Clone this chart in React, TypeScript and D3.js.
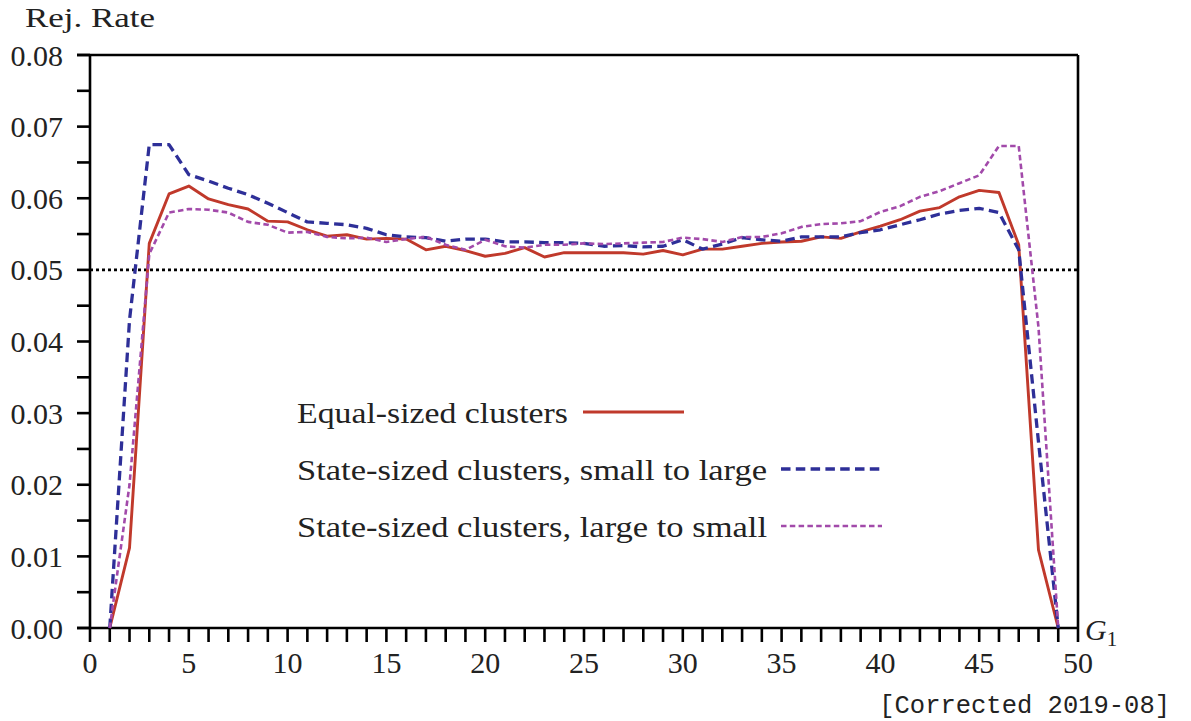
import React from "react";
import * as d3 from "d3";

// Number of clusters assigned to group 1 (G1)
const g1: number[] = d3.range(1, 50);

const equalSized: number[] = [
  0, 0.0112, 0.0537, 0.0606, 0.0617, 0.0599, 0.0591, 0.0585, 0.0568, 0.0567,
  0.0556, 0.0547, 0.0549, 0.0543, 0.0544, 0.0543, 0.0528, 0.0533, 0.0527, 0.0519,
  0.0523, 0.0531, 0.0518, 0.0524, 0.0524, 0.0524, 0.0524, 0.0522, 0.0527, 0.0521,
  0.0529, 0.0529, 0.0533, 0.0537, 0.0539, 0.054, 0.0546, 0.0544, 0.0553, 0.0561,
  0.057, 0.0582, 0.0587, 0.0602, 0.0611, 0.0608, 0.0535, 0.0109, 0,
];

const smallToLarge: number[] = [
  0, 0.043, 0.0675, 0.0675, 0.0633, 0.0624, 0.0614, 0.0605, 0.0593, 0.058,
  0.0567, 0.0565, 0.0563, 0.0558, 0.0549, 0.0546, 0.0545, 0.054, 0.0543, 0.0543,
  0.0539, 0.0539, 0.0538, 0.0538, 0.0537, 0.0533, 0.0534, 0.0532, 0.0533, 0.0542,
  0.0529, 0.0536, 0.0545, 0.0542, 0.054, 0.0546, 0.0546, 0.0546, 0.0552, 0.0556,
  0.0563, 0.057, 0.0578, 0.0583, 0.0586, 0.058, 0.0528, 0.026, 0,
];

const largeToSmall: number[] = [
  0, 0.02, 0.0522, 0.058, 0.0585, 0.0584, 0.058, 0.0567, 0.0563, 0.0552,
  0.0553, 0.0546, 0.0544, 0.0545, 0.0539, 0.0543, 0.0546, 0.0535, 0.0528, 0.0542,
  0.0533, 0.0531, 0.0535, 0.0535, 0.0537, 0.0536, 0.0537, 0.0538, 0.0539, 0.0545,
  0.0543, 0.0539, 0.0546, 0.0546, 0.0551, 0.056, 0.0564, 0.0565, 0.0568, 0.0581,
  0.0589, 0.0602, 0.061, 0.0621, 0.0632, 0.0673, 0.0673, 0.042, 0,
];

const xMajorTicks: number[] = [0, 5, 10, 15, 20, 25, 30, 35, 40, 45, 50];
const yMajorTicks: number[] = [0, 0.01, 0.02, 0.03, 0.04, 0.05, 0.06, 0.07, 0.08];
const nominalLevel = 0.05;

const seriesNames: string[] = [
  "Equal-sized clusters",
  "State-sized clusters, small to large",
  "State-sized clusters, large to small",
];

const W = 1191;
const H = 721;
const left = 90;
const right = 1078;
const top = 55;
const bottom = 628;

const serif = "'Liberation Serif', 'DejaVu Serif', serif";
const mono = "'Liberation Mono', 'DejaVu Sans Mono', monospace";
const ink = "#222";

export default function App() {
  const x = d3.scaleLinear().domain([0, 50]).range([left, right]);
  const y = d3.scaleLinear().domain([0, 0.08]).range([bottom, top]);

  const line = d3
    .line<number>()
    .x((_, i) => x(g1[i]))
    .y((d) => y(d));

  const series = [
    { name: seriesNames[0], values: equalSized, color: "#c0392b", dash: undefined, width: 2.9, textW: 271, lx1: 583, lx2: 684, ly: 412 },
    { name: seriesNames[1], values: smallToLarge, color: "#2e2f98", dash: "9.5,5.3", width: 3.3, textW: 470, lx1: 781, lx2: 882, ly: 469 },
    { name: seriesNames[2], values: largeToSmall, color: "#a24aaa", dash: "5.5,3.3", width: 2.6, textW: 470, lx1: 781, lx2: 882, ly: 526 },
  ];

  const xMinor = d3.range(0, 51);
  const yMinor = d3.range(0, 17).map((i) => i * 0.005);

  return (
    <svg
      width={W}
      height={H}
      style={{ position: "absolute", left: 0, top: 0, background: "#fff" }}
    >
      {/* y-axis label */}
      <text
        x={25}
        y={27}
        textLength={130}
        lengthAdjust="spacingAndGlyphs"
        fontFamily={serif}
        fontSize={28}
        fill={ink}
      >
        Rej. Rate
      </text>

      {/* ticks (outside) */}
      {yMinor.map((v, i) => (
        <line key={"yt" + i} x1={left - 13} x2={left} y1={y(v)} y2={y(v)} stroke="#000" strokeWidth={2.6} />
      ))}
      {xMinor.map((v, i) => (
        <line key={"xt" + i} x1={x(v)} x2={x(v)} y1={bottom} y2={bottom + 14} stroke="#000" strokeWidth={2.6} />
      ))}

      {/* frame */}
      <line x1={left} x2={left} y1={top} y2={bottom} stroke="#000" strokeWidth={2.6} />
      <line x1={left - 13} x2={right} y1={top} y2={top} stroke="#000" strokeWidth={2.6} />
      <line x1={right} x2={right} y1={top} y2={bottom} stroke="#000" strokeWidth={2.6} />
      <line x1={left - 13} x2={right} y1={bottom} y2={bottom} stroke="#000" strokeWidth={2.6} />

      {/* tick labels */}
      {yMajorTicks.map((v) => (
        <text
          key={"yl" + v}
          x={left - 27}
          y={y(v)}
          dy="0.35em"
          textAnchor="end"
          fontFamily={serif}
          fontSize={30}
          fill={ink}
        >
          {v.toFixed(2)}
        </text>
      ))}
      {xMajorTicks.map((v) => (
        <text
          key={"xl" + v}
          x={x(v)}
          y={673}
          textAnchor="middle"
          fontFamily={serif}
          fontSize={30}
          fill={ink}
        >
          {v}
        </text>
      ))}
      <text x={1085} y={640} fontFamily={serif} fontSize={30} fill={ink}>
        <tspan fontStyle="italic">G</tspan>
        <tspan fontSize={21} dy={6}>1</tspan>
      </text>

      {/* nominal 5% level */}
      <line
        x1={left}
        x2={right}
        y1={y(nominalLevel)}
        y2={y(nominalLevel)}
        stroke="#000"
        strokeWidth={2.6}
        strokeDasharray="3,3"
      />

      {/* series */}
      {series.map((s) => (
        <path
          key={s.name}
          d={line(s.values) ?? ""}
          fill="none"
          stroke={s.color}
          strokeWidth={s.width}
          strokeDasharray={s.dash}
          strokeLinejoin="round"
        />
      ))}

      {/* legend */}
      {series.map((s) => (
        <g key={"lg" + s.name}>
          <text
            x={297}
            y={s.ly + 11}
            textLength={s.textW}
            lengthAdjust="spacingAndGlyphs"
            fontFamily={serif}
            fontSize={29}
            fill={ink}
          >
            {s.name}
          </text>
          <line
            x1={s.lx1}
            x2={s.lx2}
            y1={s.ly}
            y2={s.ly}
            stroke={s.color}
            strokeWidth={s.width}
            strokeDasharray={s.dash}
          />
        </g>
      ))}

      <text x={1170} y={713} textAnchor="end" fontFamily={mono} fontSize={25.5} fill={ink}>
        [Corrected 2019-08]
      </text>
    </svg>
  );
}
